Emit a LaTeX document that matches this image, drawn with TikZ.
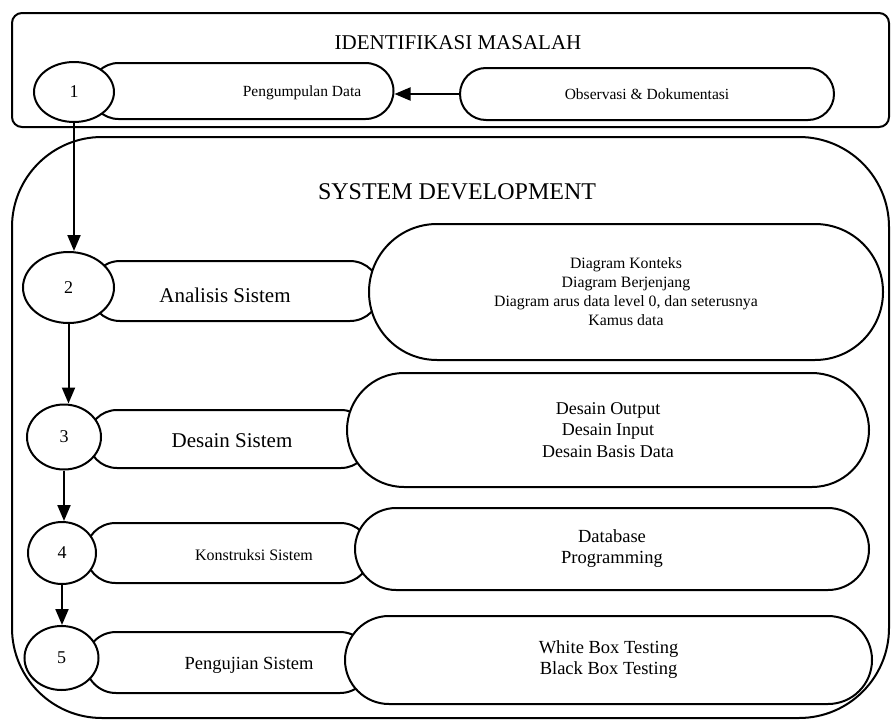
\documentclass[tikz,border=0pt]{standalone}
\usepackage{fontspec}
\setmainfont{Liberation Serif}
\usetikzlibrary{shapes.geometric,shapes.misc,arrows.meta}

\newcommand{\fsz}[2]{\fontsize{#1}{#2}\selectfont}

\tikzset{
  num/.style={draw, ellipse, fill=white, inner sep=0pt, line width=2pt, font=\fsz{18}{21}},
  pill/.style={draw, rounded rectangle, fill=white, inner sep=0pt, line width=2pt},
  arr/.style={-{Triangle[length=16pt,width=13pt]}, line width=2pt},
}

\begin{document}
\begin{tikzpicture}[x=1pt,y=-1pt]
  \useasboundingbox (0,0) rectangle (891,720);

  % identifikasi masalah
  \begin{scope}
    \draw[line width=2pt, rounded corners=10pt] (12,13) rectangle (889,127);
    \node[font=\fsz{21}{24}] (t1) at (458,43) {IDENTIFIKASI MASALAH};

    \node[pill, minimum width=303pt, minimum height=56pt] (d1) at (242,91) {};
    \node[font=\fsz{15.5}{18}] (l1) at (302,93) {Pengumpulan Data};
    \node[pill, minimum width=374pt, minimum height=52pt, font=\fsz{15.5}{18}] (o1) at (647,94) {Observasi \& Dokumentasi};
    \node[num, minimum width=80pt, minimum height=60pt] (c1) at (74,92) {1};
  \end{scope}

  % system development
  \begin{scope}
    \draw[line width=2pt, rounded corners=90pt] (12,137) rectangle (889,718);
    \node[font=\fsz{24}{28}] (t2) at (457,192) {SYSTEM DEVELOPMENT};

    \node[pill, minimum width=290pt, minimum height=60pt] (d2) at (235,291) {};
    \node[font=\fsz{21}{24}] (l2) at (225,295) {Analisis Sistem};
    \node[pill, minimum width=514pt, minimum height=136pt, align=center, font=\fsz{15.8}{19}] (e2) at (626,292)
      {Diagram Konteks\\Diagram Berjenjang\\Diagram arus data level 0, dan seterusnya\\Kamus data};
    \node[num, minimum width=91pt, minimum height=71pt] (c2) at (68.5,287.5) {2};

    \node[pill, minimum width=282pt, minimum height=58pt] (d3) at (229,439) {};
    \node[font=\fsz{21}{24}] (l3) at (232,441) {Desain Sistem};
    \node[pill, minimum width=522pt, minimum height=114pt, align=center, font=\fsz{18}{21.5}] (e3) at (608,430)
      {Desain Output\\Desain Input\\Desain Basis Data};
    \node[num, minimum width=74pt, minimum height=65pt] (c3) at (64,437) {3};

    \node[pill, minimum width=285pt, minimum height=60pt] (d4) at (228,553) {};
    \node[font=\fsz{16}{19}] (l4) at (254,555) {Konstruksi Sistem};
    \node[pill, minimum width=514pt, minimum height=82pt, align=center, font=\fsz{18.5}{21}] (e4) at (612,549)
      {Database\\Programming};
    \node[num, minimum width=68pt, minimum height=62pt] (c4) at (62,553) {4};

    \node[pill, minimum width=285pt, minimum height=61pt] (d5) at (228,662.5) {};
    \node[font=\fsz{18.5}{21}] (l5) at (249,665) {Pengujian Sistem};
    \node[pill, minimum width=527pt, minimum height=88pt, align=center, font=\fsz{18.5}{21}] (e5) at (608.5,660)
      {White Box Testing\\Black Box Testing};
    \node[num, minimum width=74pt, minimum height=64pt] (c5) at (61.5,658) {5};
  \end{scope}

  % alur
  \draw[arr] (o1.west) -- (o1.west -| d1.east);
  \draw[arr] (c1.south) -- (c1.south |- c2.north);
  \draw[arr] (c2.south) -- (c2.south |- c3.north);
  \draw[arr] (c3.south) -- (c3.south |- c4.north);
  \draw[arr] (c4.south) -- (c4.south |- c5.north);
\end{tikzpicture}
\end{document}
